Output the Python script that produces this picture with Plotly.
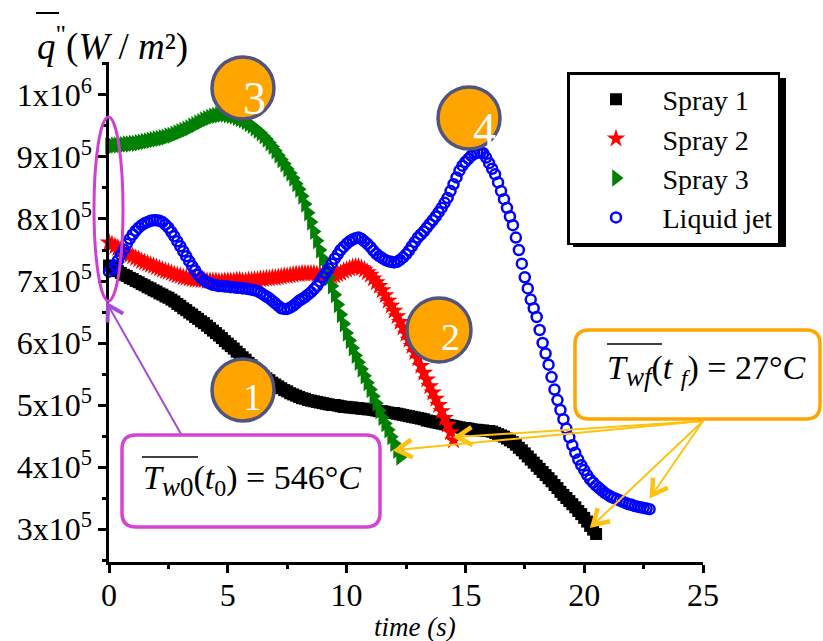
import plotly.graph_objects as go

# ---------------- data (heat flux in units of 1e5 W/m^2, sampled every 0.125 s) ----------------
STEP = 0.125
spray1_q = [7.25, 7.22, 7.19, 7.16, 7.13, 7.10, 7.08, 7.05, 7.03, 7.00, 6.98, 6.95, 6.93, 6.90, 6.88, 6.85,
            6.83, 6.80, 6.78, 6.75, 6.73, 6.70, 6.67, 6.63, 6.60, 6.56, 6.53, 6.49, 6.46, 6.42, 6.39, 6.35,
            6.32, 6.28, 6.24, 6.20, 6.16, 6.12, 6.08, 6.03, 5.99, 5.95, 5.91, 5.86, 5.82, 5.77, 5.73, 5.68,
            5.64, 5.59, 5.55, 5.51, 5.47, 5.43, 5.40, 5.36, 5.33, 5.30, 5.27, 5.24, 5.22, 5.19, 5.17, 5.15,
            5.13, 5.11, 5.10, 5.08, 5.07, 5.06, 5.05, 5.04, 5.03, 5.02, 5.01, 5.00, 5.00, 4.99, 4.98, 4.97,
            4.97, 4.96, 4.96, 4.95, 4.95, 4.94, 4.94, 4.93, 4.93, 4.92, 4.91, 4.90, 4.90, 4.89, 4.88, 4.87,
            4.87, 4.86, 4.85, 4.84, 4.83, 4.82, 4.81, 4.80, 4.79, 4.78, 4.77, 4.75, 4.74, 4.73, 4.72, 4.71,
            4.70, 4.69, 4.68, 4.67, 4.66, 4.65, 4.64, 4.63, 4.63, 4.62, 4.61, 4.60, 4.60, 4.59, 4.59, 4.58,
            4.58, 4.57, 4.55, 4.53, 4.51, 4.49, 4.46, 4.43, 4.40, 4.36, 4.31, 4.27, 4.22, 4.17, 4.12, 4.07,
            4.02, 3.97, 3.92, 3.87, 3.82, 3.77, 3.71, 3.66, 3.60, 3.55, 3.50, 3.45, 3.40, 3.35, 3.29, 3.24,
            3.18, 3.12, 3.05, 2.99, 2.92]
spray2_q = [7.62, 7.59, 7.56, 7.53, 7.50, 7.47, 7.45, 7.42, 7.40, 7.37, 7.35, 7.32, 7.30, 7.28, 7.26, 7.24,
            7.22, 7.20, 7.18, 7.16, 7.15, 7.13, 7.11, 7.09, 7.08, 7.06, 7.05, 7.04, 7.03, 7.02, 7.02, 7.01,
            7.01, 7.00, 7.00, 7.00, 7.00, 6.99, 6.99, 7.00, 7.00, 7.00, 7.00, 7.01, 7.01, 7.00, 7.00, 7.01,
            7.01, 7.02, 7.02, 7.03, 7.03, 7.04, 7.04, 7.05, 7.05, 7.06, 7.07, 7.08, 7.08, 7.09, 7.10, 7.11,
            7.11, 7.12, 7.12, 7.12, 7.12, 7.12, 7.11, 7.11, 7.10, 7.09, 7.08, 7.08, 7.09, 7.11, 7.13, 7.16,
            7.18, 7.20, 7.22, 7.23, 7.23, 7.21, 7.18, 7.14, 7.10, 7.04, 6.98, 6.92, 6.85, 6.77, 6.68, 6.60,
            6.52, 6.43, 6.34, 6.25, 6.15, 6.05, 5.95, 5.85, 5.75, 5.63, 5.52, 5.41, 5.30, 5.20, 5.10, 5.00,
            4.90, 4.79, 4.68, 4.56, 4.43]
spray3_q = [9.18, 9.18, 9.19, 9.19, 9.20, 9.20, 9.21, 9.21, 9.22, 9.22, 9.23, 9.24, 9.25, 9.26, 9.27, 9.28,
            9.29, 9.30, 9.31, 9.32, 9.34, 9.35, 9.37, 9.39, 9.41, 9.43, 9.45, 9.47, 9.50, 9.52, 9.55, 9.57,
            9.60, 9.62, 9.64, 9.66, 9.67, 9.68, 9.69, 9.69, 9.68, 9.67, 9.66, 9.64, 9.62, 9.60, 9.57, 9.54,
            9.51, 9.47, 9.43, 9.39, 9.34, 9.29, 9.23, 9.17, 9.10, 9.03, 8.96, 8.89, 8.81, 8.74, 8.66, 8.57,
            8.48, 8.37, 8.24, 8.10, 7.95, 7.80, 7.65, 7.50, 7.36, 7.21, 7.06, 6.92, 6.78, 6.62, 6.46, 6.31,
            6.16, 6.04, 5.92, 5.80, 5.69, 5.58, 5.47, 5.36, 5.25, 5.14, 5.03, 4.91, 4.80, 4.70, 4.60, 4.49,
            4.38, 4.27, 4.16]
jet_q = [7.15, 7.19, 7.25, 7.33, 7.42, 7.51, 7.60, 7.68, 7.75, 7.81, 7.86, 7.90, 7.93, 7.95, 7.97, 7.98,
         7.98, 7.97, 7.95, 7.91, 7.86, 7.79, 7.72, 7.64, 7.56, 7.48, 7.40, 7.32, 7.24, 7.17, 7.10, 7.05,
         7.01, 6.98, 6.96, 6.94, 6.93, 6.92, 6.92, 6.91, 6.91, 6.90, 6.90, 6.89, 6.89, 6.88, 6.88, 6.87,
         6.86, 6.85, 6.84, 6.81, 6.78, 6.75, 6.72, 6.68, 6.64, 6.60, 6.56, 6.55, 6.55, 6.57, 6.60, 6.64,
         6.68, 6.71, 6.74, 6.78, 6.82, 6.87, 6.92, 6.99, 7.06, 7.13, 7.20, 7.28, 7.36, 7.43, 7.50, 7.55,
         7.60, 7.64, 7.67, 7.69, 7.70, 7.68, 7.64, 7.60, 7.55, 7.49, 7.44, 7.40, 7.37, 7.34, 7.32, 7.31,
         7.30, 7.31, 7.34, 7.38, 7.43, 7.49, 7.56, 7.63, 7.70, 7.75, 7.80, 7.86, 7.92, 7.98, 8.04, 8.11,
         8.18, 8.26, 8.34, 8.45, 8.56, 8.67, 8.78, 8.86, 8.92, 8.97, 9.02, 9.05, 9.07, 9.07, 9.06, 8.99,
         8.90, 8.81, 8.72, 8.59, 8.45, 8.32, 8.18, 8.04, 7.90, 7.70, 7.50, 7.28, 7.06, 6.88, 6.70, 6.56,
         6.42, 6.21, 6.00, 5.83, 5.65, 5.45, 5.25, 5.08, 4.92, 4.77, 4.62, 4.48, 4.35, 4.23, 4.12, 4.03,
         3.95, 3.87, 3.80, 3.75, 3.70, 3.66, 3.62, 3.58, 3.55, 3.52, 3.50, 3.48, 3.46, 3.44, 3.42, 3.40,
         3.39, 3.37, 3.36, 3.35, 3.34, 3.33, 3.32]
series_names = ["Spray 1", "Spray 2", "Spray 3", "Liquid jet"]
y_tickvals = [3e5, 4e5, 5e5, 6e5, 7e5, 8e5, 9e5, 1e6]
y_ticktext = ["3x10<sup>5</sup>", "4x10<sup>5</sup>", "5x10<sup>5</sup>", "6x10<sup>5</sup>",
              "7x10<sup>5</sup>", "8x10<sup>5</sup>", "9x10<sup>5</sup>", "1x10<sup>6</sup>"]
y_minor = [2.5e5, 3.5e5, 4.5e5, 5.5e5, 6.5e5, 7.5e5, 8.5e5, 9.5e5, 1.05e6]

FONT = "Liberation Serif"
W, H = 823, 641
L, R, T, B = 109, 703, 62, 562


def px(x):
    return (x - L) / (R - L)


def py(y):
    return (B - y) / (B - T)


def times(vals):
    return [round(i * STEP, 3) for i in range(len(vals))]


def scale(vals):
    return [v * 1e5 for v in vals]


fig = go.Figure()
styles = [
    dict(symbol="square", size=12, color="#000000", line=dict(width=0)),
    dict(symbol="star", size=14, color="#ff0000", line=dict(width=0)),
    dict(symbol="triangle-right", size=15, color="#008000", line=dict(width=0)),
    dict(symbol="circle-open", size=10, color="#0000ff", line=dict(width=2.5, color="#0000ff")),
]
for name, q, st in zip(series_names, [spray1_q, spray2_q, spray3_q, jet_q], styles):
    fig.add_trace(go.Scatter(x=times(q), y=scale(q), mode="markers", name=name, marker=st,
                             cliponaxis=False))

shapes = []
annotations = []


def rrect(x0, y0, x1, y1, r, color, width, fill="white"):
    pts = [("M", [(x0 + r, y0)]), ("L", [(x1 - r, y0)]), ("Q", [(x1, y0), (x1, y0 + r)]),
           ("L", [(x1, y1 - r)]), ("Q", [(x1, y1), (x1 - r, y1)]), ("L", [(x0 + r, y1)]),
           ("Q", [(x0, y1), (x0, y1 - r)]), ("L", [(x0, y0 + r)]), ("Q", [(x0, y0), (x0 + r, y0)])]
    path = " ".join(c + " " + " ".join(f"{px(a):.5f},{py(b):.5f}" for a, b in p) for c, p in pts) + " Z"
    shapes.append(dict(type="path", xref="paper", yref="paper", path=path,
                       line=dict(color=color, width=width), fillcolor=fill, layer="above"))


def line(x0, y0, x1, y1, color, width):
    shapes.append(dict(type="line", xref="paper", yref="paper", x0=px(x0), y0=py(y0), x1=px(x1), y1=py(y1),
                       line=dict(color=color, width=width), layer="above"))


def arrow(x0, y0, x1, y1, color, width, head_w, hl=15, hw=9):
    line(x0, y0, x1, y1, color, width)
    dx, dy = x1 - x0, y1 - y0
    n = (dx * dx + dy * dy) ** 0.5
    ux, uy = dx / n, dy / n
    nx, ny = -uy, ux
    a = (x1 - hl * ux + hw * nx, y1 - hl * uy + hw * ny)
    b = (x1 - hl * ux - hw * nx, y1 - hl * uy - hw * ny)
    path = f"M {px(a[0]):.5f},{py(a[1]):.5f} L {px(x1):.5f},{py(y1):.5f} L {px(b[0]):.5f},{py(b[1]):.5f}"
    shapes.append(dict(type="path", xref="paper", yref="paper", path=path,
                       line=dict(color=color, width=head_w), layer="above"))


def text(x, y, s, size, color="black", anchor="left"):
    annotations.append(dict(xref="paper", yref="paper", x=px(x), y=py(y), text=s, showarrow=False,
                            xanchor=anchor, yanchor="middle",
                            font=dict(family=FONT, size=size, color=color)))


def big_sub(s, size=27):
    return f"<sub><span style=\"font-size:{size}px\">{s}</span></sub>"


# legend shadow (offset copy of the legend frame)
shapes.append(dict(type="rect", xref="paper", yref="paper", x0=px(573), x1=px(786), y0=py(247), y1=py(78),
                   fillcolor="black", line=dict(width=0), layer="above"))

# magenta ellipse + arrow + box
shapes.append(dict(type="circle", xref="paper", yref="paper", x0=px(94), x1=px(123), y0=py(301), y1=py(117),
                   line=dict(color="#d040d0", width=3), layer="above"))
arrow(181, 434, 108, 305, "#a64bd6", 2, 4)
rrect(122, 435, 380, 527, 14, "#d444d4", 3.5)
line(142, 457, 198, 457, "black", 1.5)
text(141, 480, "<i>T</i>" + big_sub("<i>w</i>0") + "(<i>t</i>" + big_sub("0", 24)
     + ") = 546°<i>C</i>", 34)

# orange box + arrows
for tx, ty in [(397, 450), (457, 437), (593, 525), (652, 495)]:
    arrow(703, 421, tx, ty, "#ffc20e", 2, 4.5)
rrect(575, 330, 820, 419, 14, "#ffa500", 3.5)
line(607, 344, 662, 344, "black", 1.5)
text(605, 370, "<i>T</i>" + big_sub("<i>wf</i>") + "(<i>t</i> " + big_sub("<i>f</i>", 24)
     + ") = 27°<i>C</i>", 34)

# numbered circles
for cx, cy, r, lab, tx, ty, fs in [(243, 390, 31, "1", 252, 397, 38), (439, 330, 32, "2", 450, 337, 38),
                                   (243, 88, 31, "3", 254, 99, 46), (469, 118, 31, "4", 484, 129, 46)]:
    shapes.append(dict(type="circle", xref="paper", yref="paper", x0=px(cx - r), x1=px(cx + r),
                       y0=py(cy + r), y1=py(cy - r), fillcolor="#ffa500",
                       line=dict(color="#50547e", width=3.5), layer="above"))
    text(tx, ty, lab, fs, color="white", anchor="center")

# axis titles
text(35, 44, "<i>q</i><sup>\"</sup>(<i>W</i> / <i>m</i>²)", 37)
line(36, 13, 59, 13, "black", 2)
text(415, 627, "<i>time (s)</i>", 27, anchor="center")

fig.update_layout(
    width=W, height=H, margin=dict(l=L, r=W - R, t=T, b=H - B),
    plot_bgcolor="white", paper_bgcolor="white",
    font=dict(family=FONT, size=32, color="black"),
    shapes=shapes, annotations=annotations,
    showlegend=True,
    legend=dict(x=px(567), y=py(72), xanchor="left", yanchor="top", bgcolor="white",
                bordercolor="black", borderwidth=2.5, font=dict(family=FONT, size=28),
                itemwidth=83, tracegroupgap=0),
    xaxis=dict(range=[0, 25], tickmode="linear", tick0=0, dtick=5, showgrid=False, zeroline=False,
               showline=True, linecolor="black", linewidth=2.5, ticks="outside", ticklen=8, tickwidth=2.5,
               tickcolor="black", tickfont=dict(family=FONT, size=32), ticklabelstandoff=-5,
               minor=dict(dtick=2.5, tick0=0, ticks="outside", ticklen=4, tickwidth=2.5, tickcolor="black",
                          showgrid=False)),
    yaxis=dict(range=[2.468e5, 1.0532e6], tickmode="array", tickvals=y_tickvals, ticktext=y_ticktext,
               showgrid=False, zeroline=False, showline=True, linecolor="black", linewidth=2.5,
               ticks="outside", ticklen=8, tickwidth=2.5, tickcolor="black",
               tickfont=dict(family=FONT, size=32),
               minor=dict(tickmode="array", tickvals=y_minor, ticks="outside", ticklen=4, tickwidth=2.5,
                          tickcolor="black", showgrid=False)),
)

fig.write_html("out.html")
